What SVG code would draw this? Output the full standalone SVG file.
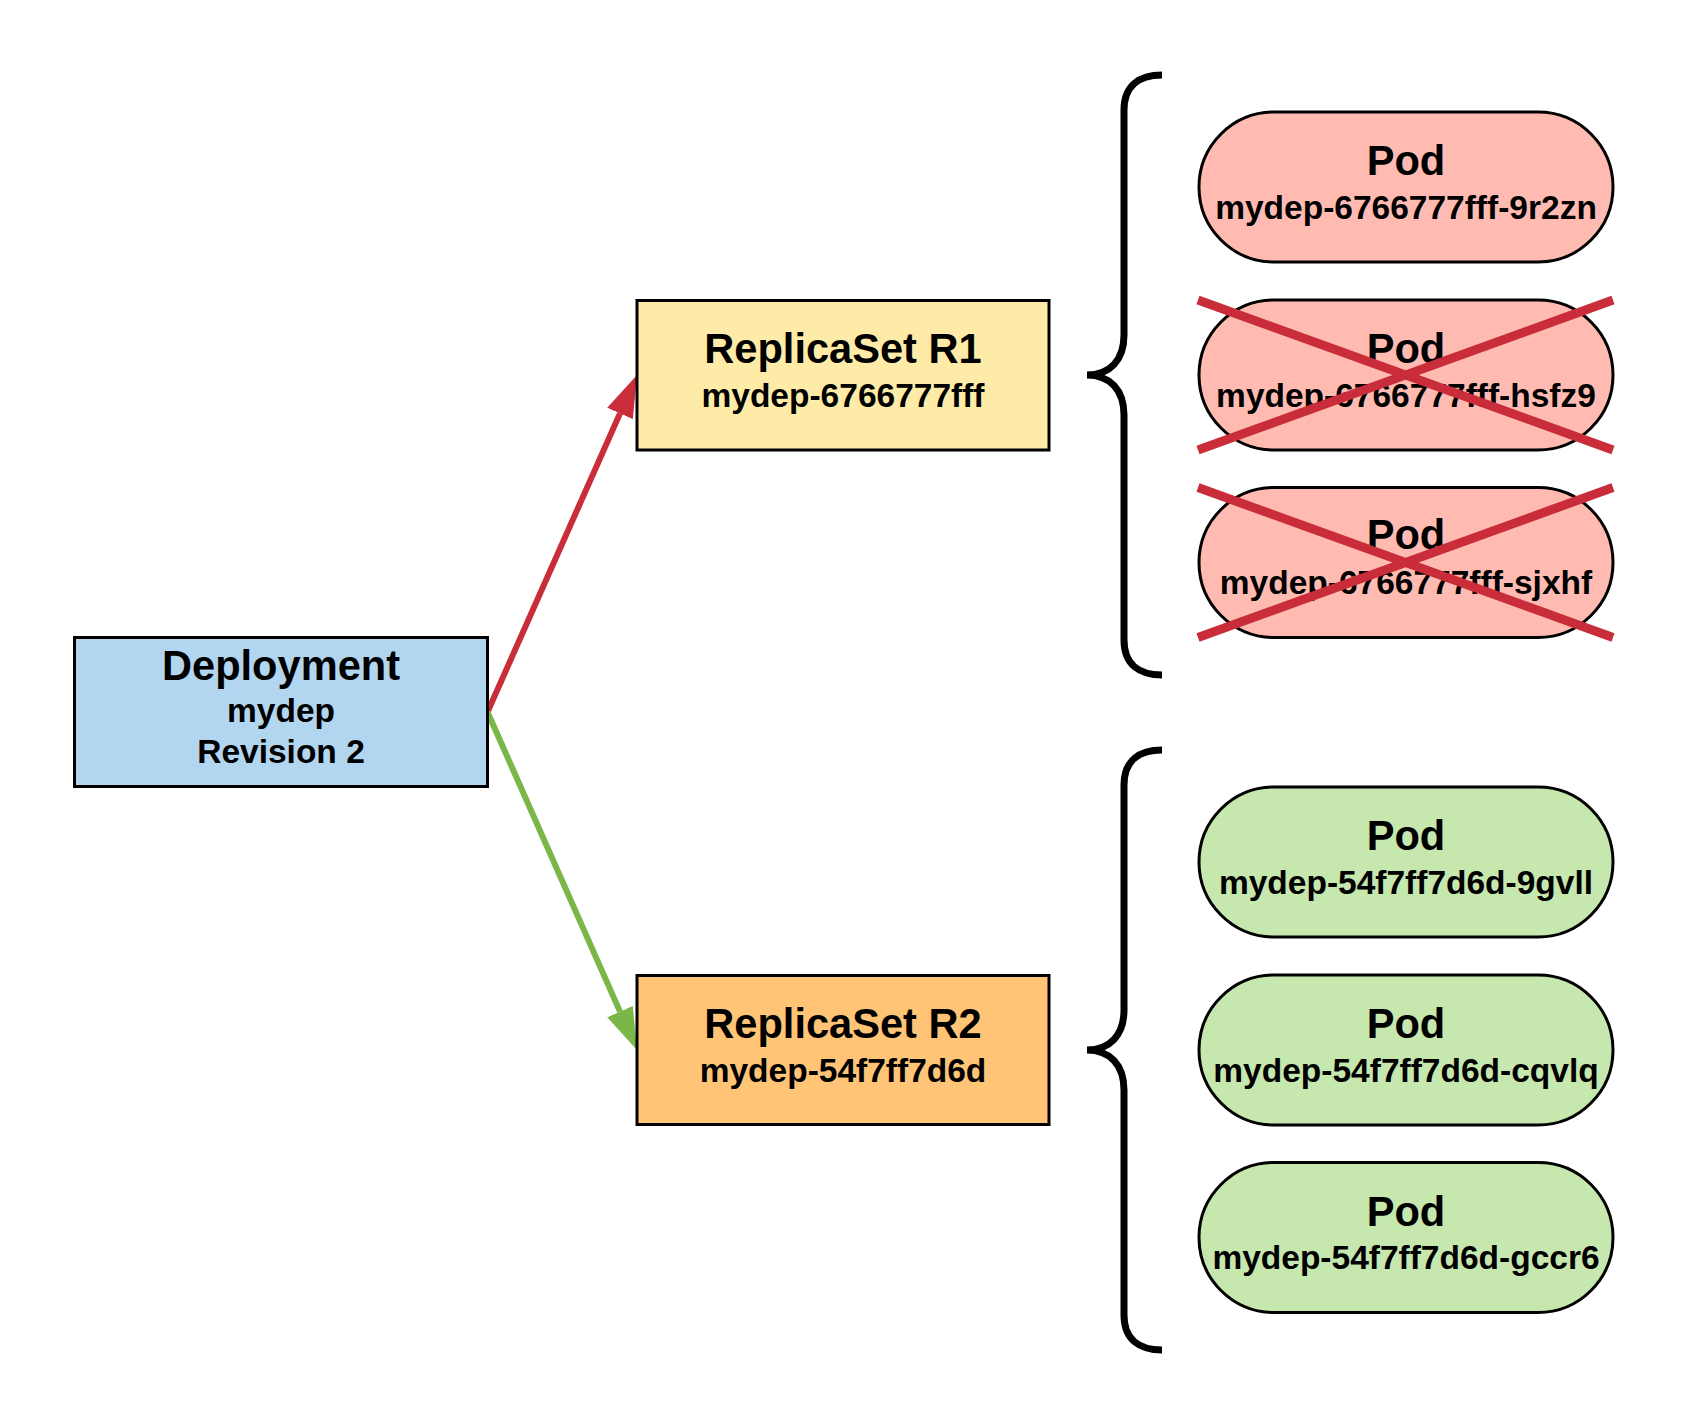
<svg xmlns="http://www.w3.org/2000/svg" width="1688" height="1425" viewBox="0 0 1688 1425">
<defs>
<style>
text{font-family:"Liberation Sans",Arial,sans-serif;font-weight:bold;fill:#000;text-anchor:middle}
.t{font-size:41.6px}
.s{font-size:33.5px}
.box{stroke:#000;stroke-width:3}
.pod{stroke:#000;stroke-width:3}
.red{fill:#FFBBB1}
.green{fill:#C6E7AE}
.x{stroke:#C92D39;stroke-width:9;fill:none}
.brace{fill:none;stroke:#000;stroke-width:7}
</style>
<marker id="ahR" markerUnits="userSpaceOnUse" viewBox="0 0 42 28" refX="0" refY="14" markerWidth="42" markerHeight="28" orient="auto"><path d="M0,0 L42,14 L0,28 Z" fill="#C92D39"/></marker>
<marker id="ahG" markerUnits="userSpaceOnUse" viewBox="0 0 42 28" refX="0" refY="14" markerWidth="42" markerHeight="28" orient="auto"><path d="M0,0 L42,14 L0,28 Z" fill="#7AB648"/></marker>
</defs>
<rect width="1688" height="1425" fill="#fff"/>

<g id="connectors">
<line x1="487.5" y1="712" x2="620" y2="413.4" stroke="#C92D39" stroke-width="6" marker-end="url(#ahR)"/>
<line x1="487.5" y1="712" x2="620" y2="1011.6" stroke="#7AB648" stroke-width="6" marker-end="url(#ahG)"/>
</g>

<g id="deployment">
<rect class="box" x="74.5" y="637.5" width="413" height="149" fill="#B2D6EF"/>
<text class="t" x="281" y="680">Deployment</text>
<text class="s" x="281" y="721.7">mydep</text>
<text class="s" x="281" y="763.3">Revision 2</text>
</g>

<g id="replicaset-r1">
<rect class="box" x="637" y="300.5" width="412" height="149.5" fill="#FFEBA8"/>
<text class="t" x="843" y="363.3">ReplicaSet R1</text>
<text class="s" x="843" y="407.3">mydep-6766777fff</text>
</g>

<g id="replicaset-r2">
<rect class="box" x="637" y="975.5" width="412" height="149" fill="#FFC476"/>
<text class="t" x="843" y="1038.3">ReplicaSet R2</text>
<text class="s" x="843" y="1081.7">mydep-54f7ff7d6d</text>
</g>

<g id="brace-r1"><path class="brace" d="M1162,75 C1140,75 1124,85 1124,110 L1124,335 C1124,360 1110,375 1087,375 C1110,375 1124,390 1124,415 L1124,640 C1124,665 1140,675 1162,675"/></g>
<g id="brace-r2"><path class="brace" d="M1162,750 C1140,750 1124,760 1124,785 L1124,1010 C1124,1035 1110,1050 1087,1050 C1110,1050 1124,1065 1124,1090 L1124,1315 C1124,1340 1140,1350 1162,1350"/></g>

<g id="pod-9r2zn">
<rect class="pod red" x="1199" y="112" width="414" height="150" rx="75" ry="75"/>
<text class="t" x="1406" y="175">Pod</text>
<text class="s" x="1406" y="218.5">mydep-6766777fff-9r2zn</text>
</g>

<g id="pod-hsfz9">
<rect class="pod red" x="1199" y="300" width="414" height="150" rx="75" ry="75"/>
<text class="t" x="1406" y="363">Pod</text>
<text class="s" x="1406" y="406.5">mydep-6766777fff-hsfz9</text>
<line class="x" x1="1198" y1="300" x2="1613" y2="450"/>
<line class="x" x1="1198" y1="450" x2="1613" y2="300"/>
</g>

<g id="pod-sjxhf">
<rect class="pod red" x="1199" y="487.5" width="414" height="150" rx="75" ry="75"/>
<text class="t" x="1406" y="549">Pod</text>
<text class="s" x="1406" y="593.5">mydep-6766777fff-sjxhf</text>
<line class="x" x1="1198" y1="487.5" x2="1613" y2="637.5"/>
<line class="x" x1="1198" y1="637.5" x2="1613" y2="487.5"/>
</g>

<g id="pod-9gvll">
<rect class="pod green" x="1199" y="787" width="414" height="150" rx="75" ry="75"/>
<text class="t" x="1406" y="850">Pod</text>
<text class="s" x="1406" y="893.5">mydep-54f7ff7d6d-9gvll</text>
</g>

<g id="pod-cqvlq">
<rect class="pod green" x="1199" y="975" width="414" height="150" rx="75" ry="75"/>
<text class="t" x="1406" y="1038">Pod</text>
<text class="s" x="1406" y="1081.5">mydep-54f7ff7d6d-cqvlq</text>
</g>

<g id="pod-gccr6">
<rect class="pod green" x="1199" y="1162.5" width="414" height="150" rx="75" ry="75"/>
<text class="t" x="1406" y="1225.5">Pod</text>
<text class="s" x="1406" y="1269">mydep-54f7ff7d6d-gccr6</text>
</g>
</svg>
